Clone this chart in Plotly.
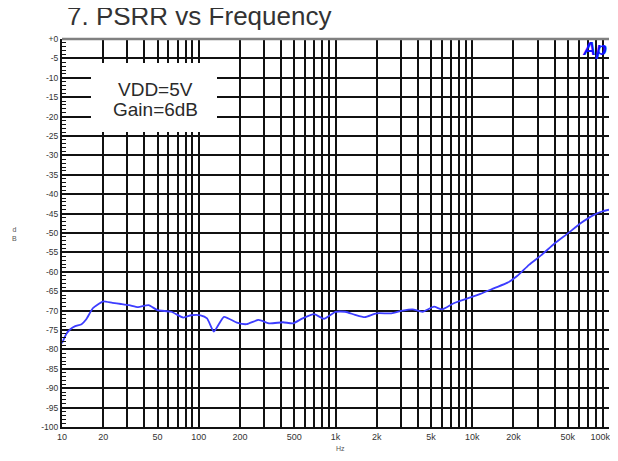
import plotly.graph_objects as go

# ---- data ----
freq_hz = [10, 10.8, 11.5, 12.5, 13.9, 15.0, 16.8, 18.5, 20, 23.4, 27, 31, 36, 43, 50,
           63, 77, 88, 103, 115, 129, 153, 190, 224, 273, 330, 413, 488, 575, 697,
           823, 1000, 1180, 1390, 1640, 1990, 2560, 3100, 3660, 4330, 5250, 6020,
           7320, 9160, 11460, 14500, 18130, 21400, 26000, 32000, 40000, 50000,
           62000, 77000, 90000, 100000]
psrr_db = [-78.4, -75.9, -74.8, -74.0, -73.5, -72.3, -69.4, -68.3, -67.6, -68.0, -68.3,
           -68.6, -69.1, -68.6, -69.9, -70.3, -71.8, -71.2, -71.2, -72.0, -75.4, -71.6,
           -73.1, -73.5, -72.4, -73.3, -73.0, -73.3, -72.0, -70.9, -72.1, -70.3, -70.3,
           -71.1, -71.7, -70.7, -70.7, -70.0, -69.7, -70.3, -69.0, -69.7, -68.1, -66.9,
           -65.7, -64.2, -62.8, -61.0, -58.2, -55.7, -52.7, -50.1, -47.5, -45.4, -44.4,
           -44.0]

x_labels = {10: "10", 20: "20", 50: "50", 100: "100", 200: "200", 500: "500",
            1000: "1k", 2000: "2k", 5000: "5k", 10000: "10k", 20000: "20k",
            50000: "50k", 100000: "100k"}
y_tick_vals = list(range(0, -105, -5))
y_tick_text = ["+0"] + [str(v) for v in y_tick_vals[1:]]

x_grid = []
for dec in [10, 100, 1000, 10000]:
    for m in range(1, 10):
        x_grid.append(dec * m)
x_grid.append(100000)
x_text = [x_labels.get(v, "") for v in x_grid]
# last label sits left of its line in the reference (edge of picture)
x_text[-1] = x_text[-1] + "&nbsp;" * 7

FONT = "Liberation Sans, Arial, sans-serif"
# page has an 8px body margin; only ~610px of width is visible
OFF = 8
W, H = 618 - OFF, 461 - 2 * OFF
# plot area in page pixels
PL, PR, PT, PB = 62, 609, 39, 427
L, T = PL - OFF, PT - OFF
R = W - (PR - OFF)
B = H - (PB - OFF)
pw, ph = PR - PL, PB - PT

def px(x):
    return (x - PL) / pw

def py(y):
    return 1 - (y - PT) / ph

fig = go.Figure()
fig.add_trace(go.Scatter(
    x=freq_hz, y=psrr_db, mode="lines",
    line=dict(color="#3c3cff", width=1.8, shape="spline", smoothing=0.5),
    hoverinfo="skip", showlegend=False))

fig.update_layout(
    width=W, height=H,
    margin=dict(l=L, r=R, t=T, b=B, autoexpand=False),
    paper_bgcolor="white", plot_bgcolor="white",
    font=dict(family=FONT, color="#333"),
    xaxis=dict(type="log", range=[1, 5], tickvals=x_grid, ticktext=x_text,
               automargin=False, ticklabeloverflow="allow",
               showgrid=True, gridcolor="#111", gridwidth=2,
               showline=True, linecolor="#111", linewidth=2,
               ticks="", tickfont=dict(size=9, color="#333"), zeroline=False),
    yaxis=dict(range=[-100, 0], tickvals=y_tick_vals, ticktext=y_tick_text,
               automargin=False,
               showgrid=True, gridcolor="#111", gridwidth=2,
               showline=True, linecolor="#111", linewidth=2,
               ticks="inside", ticklen=5, tickcolor="#111",
               minor=dict(ticks="inside", ticklen=4, dtick=1, tickcolor="#111",
                          tickwidth=1, showgrid=False),
               tickfont=dict(size=8.5, color="#333"), zeroline=False),
    shapes=[
        dict(type="rect", xref="paper", yref="paper",
             x0=px(91), x1=px(217), y0=py(132), y1=py(63),
             fillcolor="white", line=dict(width=0), layer="above"),
        dict(type="line", xref="paper", yref="paper", x0=0, x1=1, y0=1, y1=1,
             line=dict(color="#808080", width=2.5), layer="above"),
    ],
    annotations=[
        dict(text="7. PSRR vs Frequency", xref="paper", yref="paper",
             x=px(65), y=py(16), xanchor="left", yanchor="middle", showarrow=False,
             font=dict(size=26, color="#333", family=FONT)),
        dict(text="VDD=5V", xref="paper", yref="paper", x=px(155), y=py(89),
             xanchor="center", yanchor="middle", showarrow=False,
             font=dict(size=19, color="#2a2a2a")),
        dict(text="Gain=6dB", xref="paper", yref="paper", x=px(155), y=py(109),
             xanchor="center", yanchor="middle", showarrow=False,
             font=dict(size=19, color="#2a2a2a")),
        dict(text="<b><i>Ap</i></b>", xref="paper", yref="paper", x=px(609), y=py(49),
             xanchor="right", yanchor="middle", showarrow=False,
             font=dict(size=18, color="#1010ff")),
        dict(text="d<br>B", xref="paper", yref="paper", x=px(14), y=py(234),
             xanchor="center", yanchor="middle", showarrow=False,
             font=dict(size=7, color="#555")),
        dict(text="Hz", xref="paper", yref="paper", x=px(340), y=py(448),
             xanchor="center", yanchor="middle", showarrow=False,
             font=dict(size=7, color="#555")),
    ],
)

fig.write_html("out.html")
